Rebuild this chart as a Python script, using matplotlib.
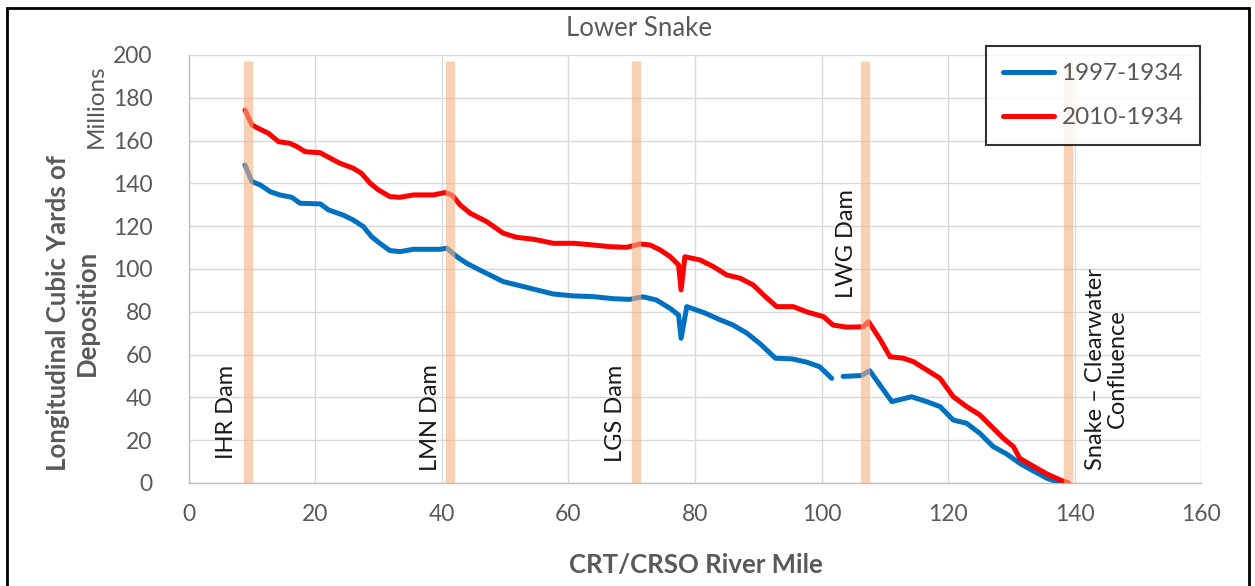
import numpy as np
import matplotlib
matplotlib.use("Agg")
import matplotlib.pyplot as plt
from matplotlib.patches import Rectangle

plt.rcParams['font.family'] = ['Lato', 'DejaVu Sans']

# river mile vs longitudinal deposition (millions of cubic yards)
mile_1997 = [8.9, 10.0, 11.3, 12.9, 14.4, 16.3, 17.6, 20.8, 22.1, 24.4, 26.0, 27.6, 28.9,
             30.2, 31.8, 33.4, 35.5, 39.7, 40.8, 42.4, 43.9, 46.0, 49.7, 53.4, 57.6, 60.8,
             63.9, 67.1, 69.7, 71.8, 73.9, 76.1, 77.4, 77.8, 78.7, 81.5, 84.0, 86.0, 88.2,
             90.3, 92.7, 95.3, 97.6, 99.7, 101.6, 102.5, 103.4, 106.3, 107.6, 109.3, 111.1,
             114.2, 116.6, 118.7, 120.8, 122.9, 125.0, 127.1, 129.2, 131.3, 133.4, 135.6,
             137.7, 139.0]
dep_1997 = [148.6, 140.8, 139.3, 136.1, 134.6, 133.5, 130.7, 130.4, 127.6, 125.2, 122.9, 119.8,
            115.1, 112.0, 108.6, 108.1, 109.2, 109.2, 109.7, 105.7, 102.7, 99.5, 94.1, 91.4,
            88.3, 87.4, 87.1, 86.1, 85.8, 87.0, 85.5, 81.5, 78.5, 67.6, 82.4, 79.5, 76.2,
            73.8, 70.0, 65.0, 58.3, 58.0, 56.5, 54.3, 48.9, np.nan, 49.8, 50.2, 52.5, 45.4,
            38.0, 40.3, 38.0, 35.7, 29.4, 27.9, 23.2, 17.0, 13.6, 9.2, 5.7, 2.2, 0.1, 0.0]

mile_2010 = [8.9, 10.0, 11.0, 12.6, 14.2, 16.0, 17.1, 18.4, 20.8, 22.1, 23.9, 26.0, 27.3,
             28.7, 30.0, 31.8, 33.4, 35.5, 38.7, 40.5, 41.6, 42.9, 44.5, 47.1, 49.7, 51.8,
             54.5, 57.6, 60.8, 63.9, 66.6, 69.2, 71.3, 72.9, 74.5, 76.1, 77.4, 77.8, 78.4,
             80.8, 82.9, 85.0, 87.1, 89.2, 91.1, 92.9, 95.5, 97.6, 100.3, 101.8, 104.0,
             106.6, 107.4, 109.3, 110.8, 112.9, 114.5, 116.6, 118.7, 120.8, 122.9, 125.0,
             126.6, 128.7, 130.3, 131.3, 133.4, 135.6, 137.7, 139.0]
dep_2010 = [174.3, 167.3, 165.7, 163.4, 159.5, 158.7, 157.2, 154.8, 154.3, 152.2, 149.4, 147.1,
            144.7, 140.0, 136.9, 133.8, 133.5, 134.6, 134.6, 135.7, 134.6, 129.9, 126.0, 122.1,
            116.7, 114.8, 113.9, 112.0, 112.0, 111.2, 110.4, 110.1, 111.7, 111.2, 108.9, 105.7,
            101.9, 90.2, 105.7, 104.2, 101.1, 97.2, 95.7, 92.5, 87.1, 82.4, 82.4, 80.0, 77.7,
            73.8, 72.8, 73.0, 75.4, 66.8, 59.0, 58.3, 56.7, 52.8, 48.9, 40.3, 35.7, 31.8,
            27.1, 20.9, 17.0, 11.5, 7.9, 4.2, 1.4, 0.0]

dam_miles = [9.4, 41.3, 70.7, 106.9, 139.0]
dam_labels = ["IHR Dam", "LMN Dam", "LGS Dam", "LWG Dam", "Snake \u2013 Clearwater\nConfluence"]
# label anchor (mile, value) for each dam caption
dam_label_pos = [(6.0, 33.4), (38.2, 30.4), (67.4, 32.7), (104.0, 112.0), (145.0, 53.3)]

x_ticks = list(range(0, 161, 20))
y_ticks = list(range(0, 201, 20))

GRAY = '#595959'

fig = plt.figure(figsize=(12.55, 5.86), dpi=100)
ax = fig.add_axes([0.1503, 0.1758, 0.807, 0.7304])

ax.plot(mile_1997, dep_1997, color='#0070C0', lw=3.6, solid_capstyle='round',
        solid_joinstyle='round', label='1997-1934', zorder=3)
ax.plot(mile_2010, dep_2010, color='#FF0000', lw=3.6, solid_capstyle='round',
        solid_joinstyle='round', label='2010-1934', zorder=3)

# dam markers drawn semi-transparent over the lines
for m in dam_miles:
    ax.plot([m, m], [0, 197], color='#F4B183', lw=6.8, alpha=0.6,
            solid_capstyle='butt', zorder=4)

for (px, py), lab in zip(dam_label_pos, dam_labels):
    ax.text(px, py, lab, rotation=90, ha='center', va='center', multialignment='center',
            fontsize=17, color='#1a1a1a', linespacing=1.05, zorder=5)

ax.set_xlim(0, 160)
ax.set_ylim(0, 200)
ax.set_xticks(x_ticks)
ax.set_yticks(y_ticks)
ax.grid(True, color='#D9D9D9', lw=1)
ax.set_axisbelow(True)
for s in ['top', 'right']:
    ax.spines[s].set_visible(False)
for s in ['left', 'bottom']:
    ax.spines[s].set_color('#BFBFBF')
    ax.spines[s].set_linewidth(1)
ax.tick_params(axis='both', length=0, labelsize=16.5, labelcolor=GRAY)
ax.tick_params(axis='y', pad=26)
ax.tick_params(axis='x', pad=15)

leg = ax.legend(loc='upper left', bbox_to_anchor=(0.7857, 0.9215),
                bbox_transform=fig.transFigure, fontsize=17.5, frameon=True,
                fancybox=False, borderpad=0.7, labelspacing=0.95, handlelength=2.1,
                handletextpad=0.3, borderaxespad=0)
leg.get_frame().set_edgecolor('black')
leg.get_frame().set_linewidth(1.5)
for t in leg.get_texts():
    t.set_color(GRAY)

fig.text(0.509, 0.952, "Lower Snake", ha='center', va='center', fontsize=18.5, color=GRAY)
fig.text(0.5546, 0.0358, "CRT/CRSO River Mile", ha='center', va='center',
         fontsize=18.5, fontweight='bold', color=GRAY)
fig.text(0.0574, 0.466, "Longitudinal Cubic Yards of\nDeposition", rotation=90,
         ha='center', va='center', multialignment='center', linespacing=1.25,
         fontsize=18.5, fontweight='bold', color=GRAY)
fig.text(0.0765, 0.819, "Millions", rotation=90, ha='center', va='center',
         fontsize=17.5, color=GRAY)

fig.patches.append(Rectangle((0.0056, -0.05), 0.990, 1.0363, transform=fig.transFigure,
                             fill=False, edgecolor='black', lw=2))

fig.savefig('out.png', dpi=100)
